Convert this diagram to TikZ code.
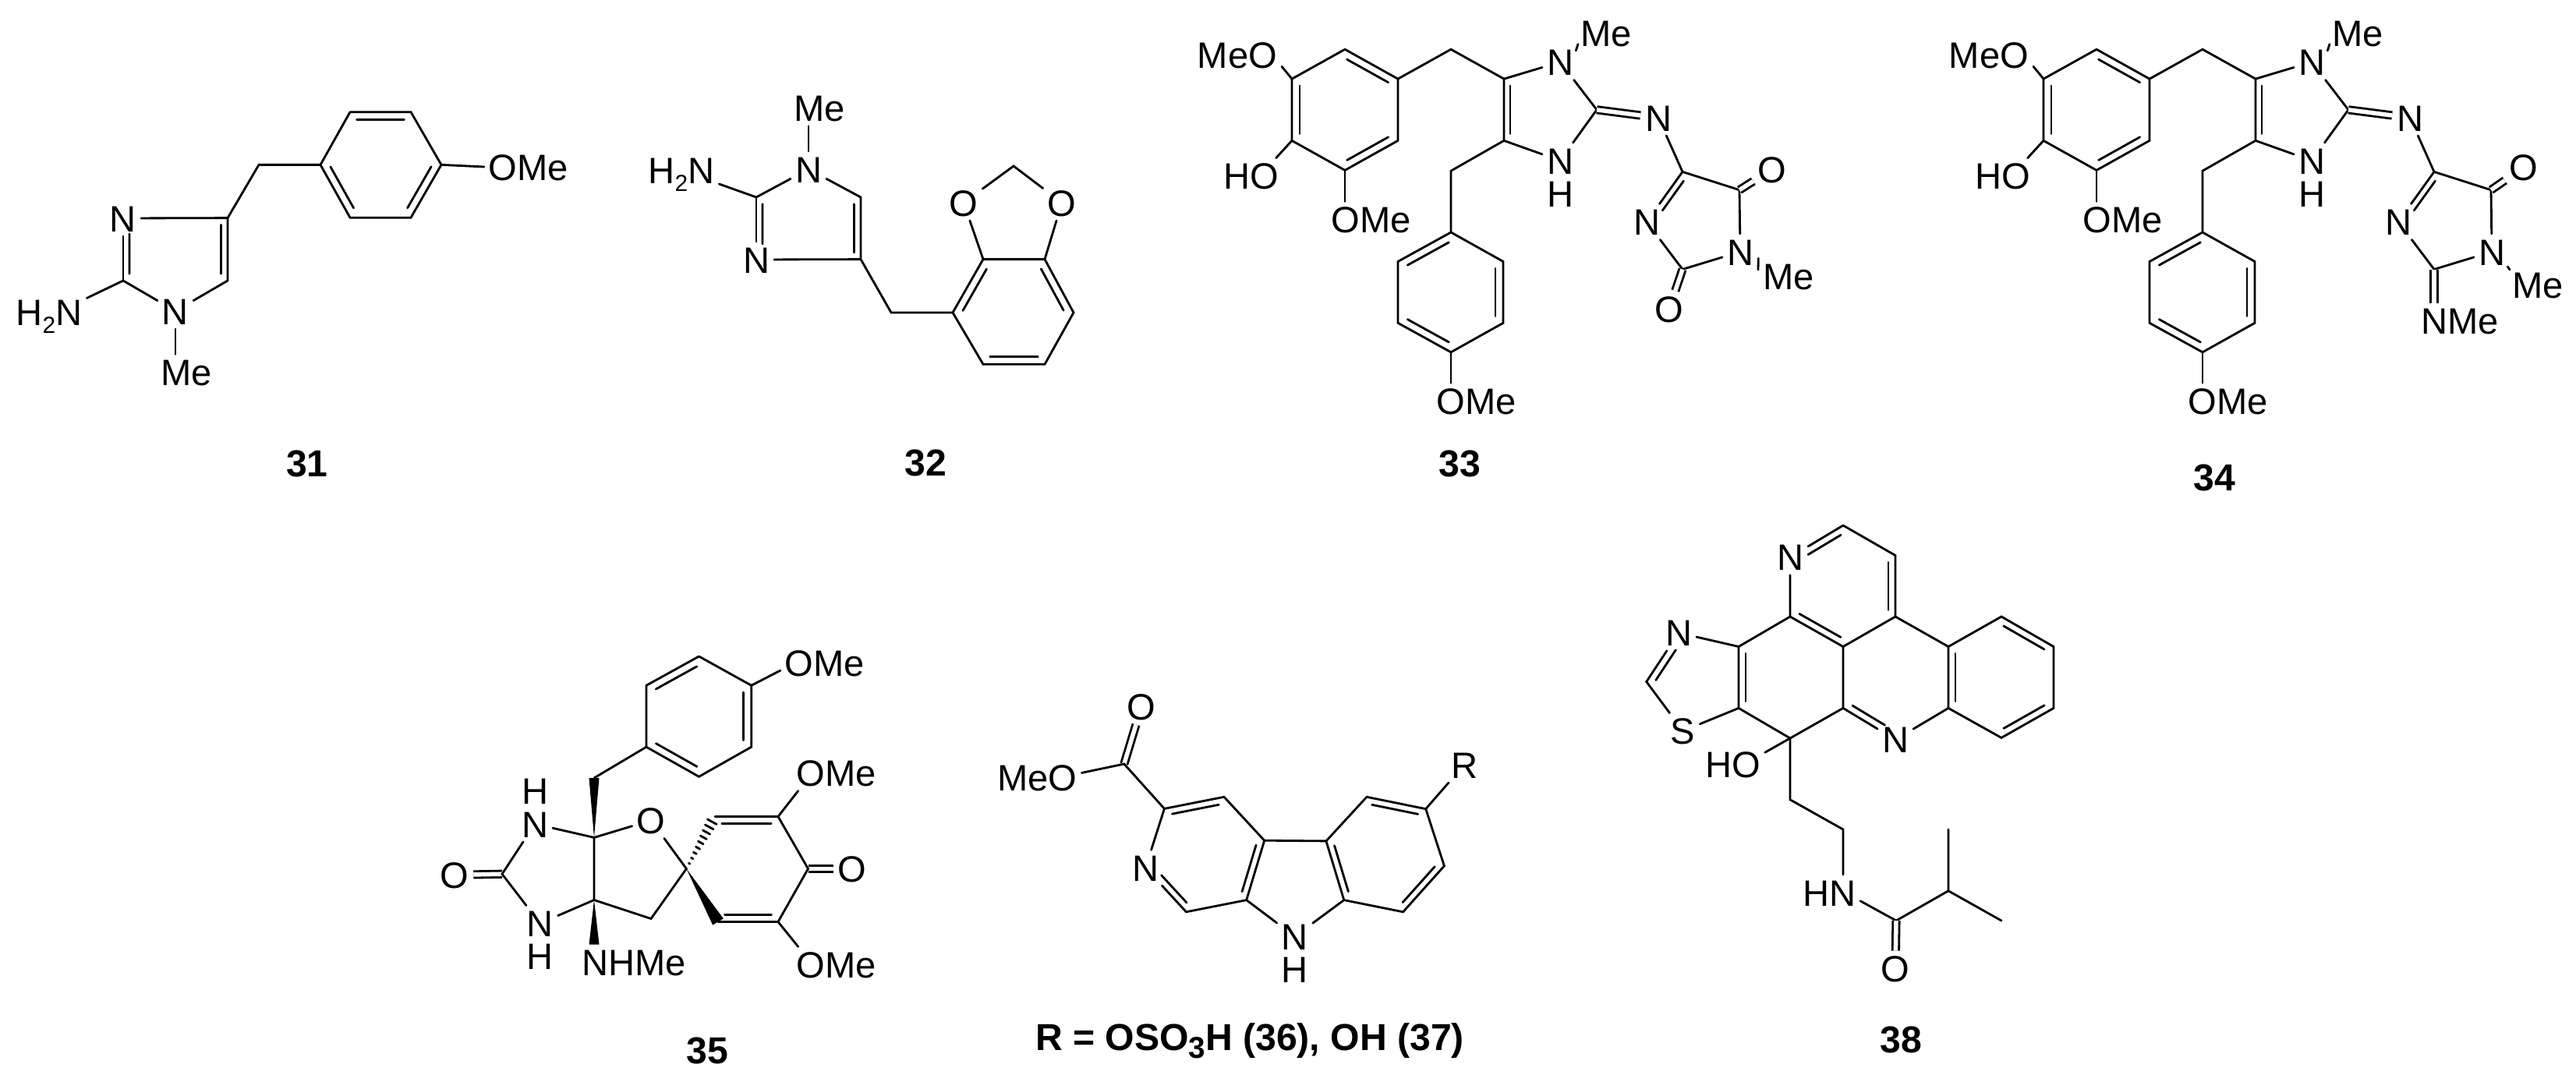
\documentclass[tikz,border=0pt]{standalone}
\usepackage{fontspec}
\setmainfont{Liberation Sans}
\usetikzlibrary{calc}
\newcommand{\inbond}[4][.11]{\draw[bond] ($($(#2)!.11!(#3)$)!#4!90:(#3)$) -- ($($(#3)!#1!(#2)$)!#4!-90:(#2)$);}
\newcommand{\wedgebond}[3]{\fill (#1) -- ($(#2)!#3!90:(#1)$) -- ($(#2)!#3!-90:(#1)$) -- cycle;}
\newcommand{\lowidx}[2]{\raisebox{-.1cm}{\fontsize{#1}{#1}\selectfont #2}}
\begin{document}
\begin{tikzpicture}
\tikzstyle{every node}+=[inner sep=1.5pt,text height=.34cm,text depth=0pt,font=\fontsize{13.4}{16}\selectfont]
\tikzstyle{bond}=[black,line width=.8pt,line cap=round]
\tikzstyle{dbond}=[black,line width=.8pt,double,double distance=.055cm]
\tikzstyle{hatom}=[inner sep=0pt]
\tikzstyle{cpd}=[font=\fontsize{13.7}{16}\selectfont\bfseries]
\useasboundingbox (0,0) rectangle (33.04,-13.88);
\coordinate (tp1) at (4.49,-1.437);
\coordinate (tp2) at (5.27,-1.437);
\coordinate (tp3) at (5.66,-2.114);
\coordinate (tp4) at (5.27,-2.792);
\coordinate (tp5) at (4.49,-2.792);
\coordinate (tp6) at (4.11,-2.114);
\coordinate (tch2) at (3.32,-2.114);
\coordinate (tc4) at (2.92,-2.796);
\coordinate (tc5) at (2.92,-3.6);
\coordinate (tc2) at (1.58,-3.6);
\node (tn3) at (1.58,-2.8) {N};
\node (tn1) at (2.25,-3.99) {N};
\node (th2n) at (.63,-4) {H\lowidx{8.5}{2}N};
\node (tme) at (2.39,-4.775) {Me};
\node (tome) at (6.78,-2.14) {OMe};
\node[cpd] (t31) at (3.94,-5.94) {31};
\draw[bond] (tp1) -- (tp2) -- (tp3) -- (tp4) -- (tp5) -- (tp6) -- (tp1);
\inbond{tp1}{tp2}{-.1cm}
\inbond{tp3}{tp4}{-.1cm}
\inbond{tp5}{tp6}{-.1cm}
\draw[bond] (tp3) -- (tome.west);
\draw[bond] (tp6) -- (tch2) -- (tc4) -- (tc5) -- (tn1);
\draw[bond] (tc4) -- (tn3);
\draw[bond] (tc2) -- (tn3);
\draw[bond] (tc2) -- (tn1);
\draw[bond] (tc2) -- (th2n.20);
\draw[bond] (tn1) -- (tn1 |- tme.north);
\inbond{tc4}{tc5}{-.085cm}
\inbond[.25]{tc2}{tn3}{-.08cm}
\coordinate (ub1) at (12.61,-3.326);
\coordinate (ub2) at (13.40,-3.326);
\coordinate (ub3) at (13.77,-4.01);
\coordinate (ub4) at (13.40,-4.673);
\coordinate (ub5) at (12.61,-4.673);
\coordinate (ub6) at (12.22,-4.01);
\coordinate (uch2) at (11.43,-4.01);
\coordinate (uc4) at (11.04,-3.326);
\coordinate (uc5) at (11.04,-2.53);
\coordinate (uc2) at (9.70,-2.53);
\coordinate (uct) at (13,-2.13);
\node (un3) at (9.70,-3.33) {N};
\node (un1) at (10.37,-2.17) {N};
\node (uh2n) at (8.74,-2.184) {H\lowidx{8.5}{2}N};
\node (ume) at (10.51,-1.388) {Me};
\node (uol) at (12.36,-2.6) {O};
\node (uor) at (13.62,-2.6) {O};
\node[cpd] (u32) at (11.87,-5.93) {32};
\draw[bond] (ub1) -- (ub2) -- (ub3) -- (ub4) -- (ub5) -- (ub6) -- (ub1);
\inbond{ub2}{ub3}{-.1cm}
\inbond{ub4}{ub5}{-.1cm}
\inbond{ub6}{ub1}{-.1cm}
\draw[bond] (ub1) -- (uol);
\draw[bond] (ub2) -- (uor);
\draw[bond] (uol) -- (uct) -- (uor);
\draw[bond] (ub6) -- (uch2) -- (uc4) -- (uc5) -- (un1);
\draw[bond] (uc4) -- (un3);
\draw[bond] (uc2) -- (un3);
\draw[bond] (uc2) -- (un1);
\draw[bond] (uc2) -- (uh2n.-20);
\draw[bond] (un1) -- (un1 |- ume.south);
\inbond{uc5}{uc4}{-.085cm}
\inbond[.25]{uc2}{un3}{.08cm}
\foreach \sx/\pre in {0/a,9.64/b}{
\begin{scope}[shift={(\sx,0)},name prefix=\pre]
\coordinate (r1) at (17.25,-.633);
\coordinate (r2) at (17.93,-1.012);
\coordinate (r3) at (17.93,-1.804);
\coordinate (r4) at (17.25,-2.184);
\coordinate (r5) at (16.57,-1.804);
\coordinate (r6) at (16.57,-1.012);
\coordinate (ch2a) at (18.61,-.633);
\coordinate (c5) at (19.29,-1.012);
\coordinate (c4) at (19.29,-1.804);
\coordinate (c2) at (20.48,-1.408);
\coordinate (c6) at (21.58,-2.204);
\coordinate (c7) at (22.31,-2.437);
\coordinate (c8) at (21.58,-3.455);
\coordinate (ch2b) at (18.61,-2.192);
\coordinate (s1) at (18.61,-2.98);
\coordinate (s2) at (17.93,-3.355);
\coordinate (s3) at (17.93,-4.143);
\coordinate (s4) at (18.61,-4.518);
\coordinate (s5) at (19.28,-4.143);
\coordinate (s6) at (19.28,-3.355);
\node (meo) at (15.87,-.70) {MeO};
\node (ho) at (16.05,-2.257) {HO};
\node (ome1) at (17.585,-2.816) {OMe};
\node (ome2) at (18.94,-5.143) {OMe};
\node (n1) at (20.01,-.796) {N};
\node (n3) at (20.01,-2.06) {N};
\node[hatom] (h3) at (20.01,-2.48) {H};
\node (nx) at (21.27,-1.51) {N};
\node (n5) at (22.32,-3.23) {N};
\node (n4) at (21.12,-2.845) {N};
\node (me1) at (20.6,-.42) {Me};
\draw[bond] (r1) -- (r2) -- (r3) -- (r4) -- (r5) -- (r6) -- (r1);
\inbond{r1}{r2}{-.1cm}
\inbond{r3}{r4}{-.1cm}
\inbond{r5}{r6}{-.1cm}
\draw[bond] (r6) -- (meo.-15);
\draw[bond] (r5) -- (ho.36);
\draw[bond] (r4) -- (r4 |- ome1.north);
\draw[bond] (r2) -- (ch2a) -- (c5) -- (c4) -- (ch2b) -- (s1);
\inbond{c5}{c4}{.08cm}
\draw[bond] (c5) -- (n1);
\draw[bond] (c4) -- (n3);
\draw[bond] (c2) -- (n1);
\draw[bond] (c2) -- (n3);
\draw[bond] (n1.north east) -- (me1.south west);
\draw[dbond] (c2) -- (nx);
\draw[bond] (nx) -- (c6);
\draw[bond] (c6) -- (c7) -- (n5);
\draw[bond] (n5) -- (c8) -- (n4) -- (c6);
\inbond[.3]{c6}{n4}{.08cm}
\draw[bond] (s1) -- (s2) -- (s3) -- (s4) -- (s5) -- (s6) -- (s1);
\inbond{s1}{s2}{.1cm}
\inbond{s3}{s4}{.1cm}
\inbond{s5}{s6}{.1cm}
\draw[bond] (s4) -- (s4 |- ome2.north);
\end{scope}
}
\node (ao1) at (22.73,-2.17) {O};
\node (ao2) at (21.41,-3.96) {O};
\node (ame2) at (22.94,-3.543) {Me};
\node[cpd] (a33) at (18.72,-5.94) {33};
\draw[dbond] (ac7) -- (ao1);
\draw[dbond] (ac8) -- (ao2);
\draw[bond] (an5.south east) -- (ame2.north west);
\node (bo1) at (32.37,-2.146) {O};
\node (bnme) at (31.55,-4.116) {NMe};
\node (bme2) at (32.55,-3.65) {Me};
\node[cpd] (b34) at (28.4,-6.12) {34};
\draw[dbond] (bc7) -- (bo1);
\draw[dbond] (bc8) -- (bc8 |- bnme.north);
\draw[bond] (bn5.south east) -- (bme2.north west);
\coordinate (vp1) at (8.965,-8.42);
\coordinate (vp2) at (9.637,-8.793);
\coordinate (vp3) at (9.637,-9.582);
\coordinate (vp4) at (8.965,-9.963);
\coordinate (vp5) at (8.29,-9.582);
\coordinate (vp6) at (8.29,-8.793);
\coordinate (vch2) at (7.62,-9.98);
\coordinate (vtc) at (7.62,-10.744);
\coordinate (vlc) at (7.62,-11.545);
\coordinate (vsp) at (8.804,-11.144);
\coordinate (vcr) at (8.35,-11.785);
\coordinate (vco) at (6.44,-11.212);
\coordinate (vul) at (9.17,-10.475);
\coordinate (vur) at (9.98,-10.475);
\coordinate (vrc) at (10.365,-11.144);
\coordinate (vlr) at (9.98,-11.825);
\coordinate (vll) at (9.21,-11.825);
\node (vome1) at (10.58,-8.5) {OMe};
\node (vome2) at (10.73,-9.915) {OMe};
\node (vome3) at (10.73,-12.374) {OMe};
\node (vnu) at (6.86,-10.57) {N};
\node[hatom] (vhu) at (6.86,-10.145) {H};
\node (vnl) at (6.926,-11.845) {N};
\node[hatom] (vhl) at (6.926,-12.266) {H};
\node (vnme) at (8.13,-12.346) {NHMe};
\node (vor) at (8.35,-10.524) {O};
\node (voc) at (5.83,-11.224) {O};
\node (vok) at (10.93,-11.144) {O};
\node[cpd] (v35) at (9.07,-13.47) {35};
\coordinate (vwb) at (vlc |- vnme.north);
\draw[bond] (vp1) -- (vp2) -- (vp3) -- (vp4) -- (vp5) -- (vp6) -- (vp1);
\inbond{vp2}{vp3}{-.1cm}
\inbond{vp4}{vp5}{-.1cm}
\inbond{vp6}{vp1}{-.1cm}
\draw[bond] (vp2) -- (vome1.190);
\draw[bond] (vch2) -- (vp5);
\wedgebond{vtc}{vch2}{.065cm}
\wedgebond{vlc}{vwb}{.065cm}
\wedgebond{vsp}{vll}{.08cm}
\foreach \t [evaluate=\t as \hw using \t*.075] in {.1,.2,...,.9}
  \draw[bond] ($($(vsp)!\t!(vul)$)!\hw cm!90:(vul)$) -- ($($(vsp)!\t!(vul)$)!\hw cm!-90:(vul)$);
\draw[dbond] (vco) -- (voc);
\draw[dbond] (vrc) -- (vok);
\draw[bond] (vtc) -- (vlc) -- (vcr) -- (vsp) -- (vor) -- (vtc);
\draw[bond] (vtc) -- (vnu) -- (vco) -- (vnl) -- (vlc);
\draw[bond] (vul) -- (vur) -- (vrc) -- (vlr) -- (vll);
\inbond{vul}{vur}{-.088cm}
\inbond{vll}{vlr}{.088cm}
\draw[bond] (vur) -- (vome2.205);
\draw[bond] (vlr) -- (vome3.155);
\coordinate (wc) at (14.418,-9.8);
\coordinate (wc3) at (14.934,-10.374);
\coordinate (wc4) at (15.70,-10.223);
\coordinate (wc4a) at (16.217,-10.782);
\coordinate (wc9a) at (15.987,-11.546);
\coordinate (wc1) at (15.214,-11.698);
\coordinate (wc4b) at (17.009,-10.789);
\coordinate (wc8a) at (17.238,-11.546);
\coordinate (wc5) at (17.53,-10.223);
\coordinate (wc6) at (18.287,-10.377);
\coordinate (wc7) at (18.524,-11.108);
\coordinate (wc8) at (17.996,-11.698);
\node (wo) at (14.64,-9.065) {O};
\node (wmeo) at (13.304,-9.974) {MeO};
\node (wn) at (14.693,-11.132) {N};
\node (wn9) at (16.607,-12.012) {N};
\node[hatom] (wh9) at (16.607,-12.435) {H};
\node (wr) at (18.78,-9.81) {R};
\node[cpd] (w36) at (16.03,-13.3) {R = OSO\lowidx{11}{3}H (36), OH (37)};
\draw[dbond] (wc) -- (wo);
\draw[bond] (wmeo.6) -- (wc) -- (wc3) -- (wc4) -- (wc4a) -- (wc9a) -- (wc1);
\draw[bond] (wc3) -- (wn);
\draw[bond] (wc1) -- (wn);
\draw[bond] (wc4a) -- (wc4b) -- (wc8a) -- (wc8) -- (wc7) -- (wc6) -- (wc5) -- (wc4b);
\draw[bond] (wc9a) -- (wn9);
\draw[bond] (wc8a) -- (wn9);
\draw[bond] (wc6) -- (wr);
\inbond{wc3}{wc4}{-.085cm}
\inbond{wc4a}{wc9a}{-.085cm}
\inbond[.27]{wc1}{wn}{-.085cm}
\inbond{wc4b}{wc8a}{.085cm}
\inbond{wc5}{wc6}{-.085cm}
\inbond{wc7}{wc8}{-.085cm}
\coordinate (xc1) at (23.64,-6.74);
\coordinate (xc2) at (24.31,-7.125);
\coordinate (xc3) at (24.31,-7.91);
\coordinate (xc4) at (23.64,-8.295);
\coordinate (xc5) at (22.96,-7.91);
\coordinate (xc7) at (22.30,-8.295);
\coordinate (xc8) at (22.30,-9.084);
\coordinate (xch) at (21.117,-8.745);
\coordinate (xc9) at (23.64,-9.084);
\coordinate (xcoh) at (22.96,-9.47);
\coordinate (xc10) at (24.99,-8.295);
\coordinate (xc11) at (24.99,-9.084);
\coordinate (xc12) at (25.67,-7.91);
\coordinate (xc13) at (26.34,-8.295);
\coordinate (xc14) at (26.34,-9.084);
\coordinate (xc15) at (25.67,-9.464);
\coordinate (xch2a) at (22.96,-10.258);
\coordinate (xch2b) at (23.64,-10.64);
\coordinate (xcam) at (24.32,-11.81);
\coordinate (xcme) at (24.99,-11.428);
\coordinate (xme1) at (24.99,-10.64);
\coordinate (xme2) at (25.67,-11.81);
\node (xnt) at (22.96,-7.148) {N};
\node (xnl) at (21.53,-8.118) {N};
\node (xs) at (21.586,-9.376) {S};
\node (xn2) at (24.31,-9.488) {N};
\node (xho) at (22.224,-9.803) {HO};
\node (xhn) at (23.46,-11.45) {HN};
\node (xo) at (24.31,-12.426) {O};
\node[cpd] (x38) at (24.385,-13.33) {38};
\draw[bond] (xc1) -- (xc2) -- (xc3) -- (xc4) -- (xc5) -- (xnt) -- (xc1);
\draw[bond] (xc4) -- (xc9) -- (xcoh) -- (xc8) -- (xc7) -- (xc5);
\draw[bond] (xc7) -- (xnl) -- (xch) -- (xs) -- (xc8);
\draw[bond] (xc9) -- (xn2) -- (xc11);
\draw[bond] (xc3) -- (xc10) -- (xc11) -- (xc15) -- (xc14) -- (xc13) -- (xc12) -- (xc10);
\inbond[.27]{xc1}{xnt}{.09cm}
\inbond{xc2}{xc3}{-.09cm}
\inbond{xc5}{xc4}{.09cm}
\inbond{xc7}{xc8}{.09cm}
\inbond[.27]{xch}{xnl}{-.09cm}
\inbond[.27]{xc9}{xn2}{.09cm}
\inbond{xc10}{xc11}{.09cm}
\inbond{xc12}{xc13}{-.09cm}
\inbond{xc14}{xc15}{-.09cm}
\draw[bond] (xcoh) -- (xho.20);
\draw[bond] (xcoh) -- (xch2a) -- (xch2b) -- (xch2b |- xhn.north);
\draw[bond] (xhn.-15) -- (xcam) -- (xcme) -- (xme1);
\draw[bond] (xcme) -- (xme2);
\draw[dbond] (xcam) -- (xo);
\end{tikzpicture}
\end{document}
